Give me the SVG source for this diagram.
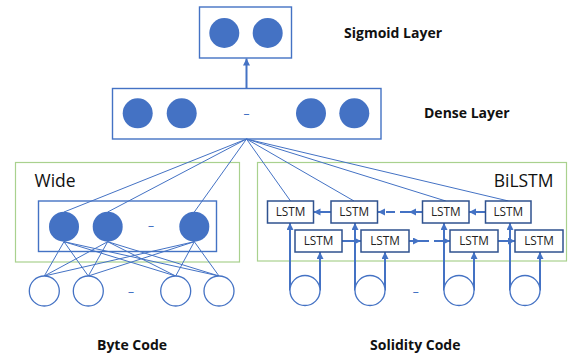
<svg xmlns="http://www.w3.org/2000/svg" width="568" height="357" viewBox="0 0 568 357">
  <defs>
    <marker id="head" markerUnits="userSpaceOnUse" markerWidth="8" markerHeight="8" refX="7" refY="3.5" orient="auto">
      <path d="M0,0 L7,3.5 L0,7 z" fill="#4472C4"/>
    </marker>
    <style>
      .cont{fill:none;stroke:#4472C4;stroke-width:1.4}
      .grp{fill:none;stroke:#A9D18E;stroke-width:1.2}
      .unit{fill:#4472C4}
      .inp{fill:#fff;stroke:#4472C4;stroke-width:1.3}
      .lstm rect{fill:#fff;stroke:#2F528F;stroke-width:1.5}
      .lstm text{font-family:"Open Sans","Noto Sans",sans-serif;font-size:11.8px;fill:#222;text-anchor:middle}
      .wire{stroke:#4472C4;stroke-width:1;fill:none}
      .flow{stroke:#4472C4;stroke-width:2;fill:none}
      .flow.arr{marker-end:url(#head)}
      .dashed{stroke-dasharray:9 5}
      .title{font-family:"Open Sans","Noto Sans",sans-serif;font-weight:bold;font-size:14px;fill:#111}
      .grplabel{font-family:"Open Sans","Noto Sans",sans-serif;font-size:17.5px;fill:#111}
      .ell{font-family:"Noto Sans",sans-serif;font-size:12px;fill:#4472C4;text-anchor:middle}
    </style>
  </defs>

  <!-- group frames -->
  <g id="wide-frame">
    <rect class="grp" x="15.5" y="162.5" width="224" height="99.5"/>
    <text class="grplabel" x="34.5" y="186.5">Wide</text>
  </g>
  <g id="bilstm-frame">
    <rect class="grp" x="257.5" y="162.5" width="309" height="98.5"/>
    <text class="grplabel" x="553.5" y="186.5" text-anchor="end">BiLSTM</text>
  </g>

  <!-- connectors -->
  <g id="connectors">
    <!-- dense to sigmoid -->
    <line class="flow arr" x1="246.5" y1="88.5" x2="246.5" y2="58.5"/>
    <!-- dense fan-out -->
    <line class="wire" x1="246.5" y1="139" x2="64" y2="212"/>
    <line class="wire" x1="246.5" y1="139" x2="107.7" y2="212"/>
    <line class="wire" x1="246.5" y1="139" x2="194.3" y2="212"/>
    <line class="wire" x1="246.5" y1="139" x2="290.5" y2="201"/>
    <line class="wire" x1="246.5" y1="139" x2="354" y2="201"/>
    <line class="wire" x1="246.5" y1="139" x2="445.8" y2="201"/>
    <line class="wire" x1="246.5" y1="139" x2="508.5" y2="201"/>
    <!-- wide units to byte inputs -->
    <g class="wire">
      <line x1="64" y1="241.7" x2="44.3" y2="276"/>
      <line x1="64" y1="241.7" x2="88.3" y2="276"/>
      <line x1="64" y1="241.7" x2="175.7" y2="276"/>
      <line x1="64" y1="241.7" x2="219" y2="276"/>
      <line x1="107.7" y1="241.7" x2="44.3" y2="276"/>
      <line x1="107.7" y1="241.7" x2="88.3" y2="276"/>
      <line x1="107.7" y1="241.7" x2="175.7" y2="276"/>
      <line x1="107.7" y1="241.7" x2="219" y2="276"/>
      <line x1="194.3" y1="241.7" x2="44.3" y2="276"/>
      <line x1="194.3" y1="241.7" x2="88.3" y2="276"/>
      <line x1="194.3" y1="241.7" x2="175.7" y2="276"/>
      <line x1="194.3" y1="241.7" x2="219" y2="276"/>
    </g>
    <!-- backward LSTM chain -->
    <line class="flow arr" x1="331" y1="212" x2="313.5" y2="212"/>
    <line class="flow arr" x1="422.5" y1="212" x2="409" y2="212"/>
    <line class="flow arr dashed" x1="409" y1="212" x2="378" y2="212"/>
    <line class="flow arr" x1="485.5" y1="212" x2="469" y2="212"/>
    <!-- forward LSTM chain -->
    <line class="flow arr" x1="342" y1="241" x2="361" y2="241"/>
    <line class="flow arr" x1="409" y1="241" x2="420" y2="241"/>
    <line class="flow arr dashed" x1="420" y1="241" x2="450" y2="241"/>
    <line class="flow arr" x1="498" y1="241" x2="515" y2="241"/>
    <!-- solidity inputs into both directions -->
    <line class="flow arr" x1="290" y1="290.5" x2="290" y2="223"/>
    <line class="flow arr" x1="320" y1="290.5" x2="320" y2="252"/>
    <line class="flow arr" x1="355" y1="290.5" x2="355" y2="223"/>
    <line class="flow arr" x1="385" y1="290.5" x2="385" y2="252"/>
    <line class="flow arr" x1="444" y1="290.5" x2="444" y2="223"/>
    <line class="flow arr" x1="474" y1="290.5" x2="474" y2="252"/>
    <line class="flow arr" x1="510" y1="290.5" x2="510" y2="223"/>
    <line class="flow arr" x1="540" y1="290.5" x2="540" y2="252"/>
  </g>

  <!-- output layer -->
  <g id="sigmoid-layer">
    <rect class="cont" x="199.5" y="7" width="92" height="51"/>
    <circle class="unit" cx="224.3" cy="33" r="15"/>
    <circle class="unit" cx="267.7" cy="33" r="15"/>
    <text class="title" x="344" y="37.5">Sigmoid Layer</text>
  </g>

  <g id="dense-layer">
    <rect class="cont" x="112.5" y="88.5" width="268.5" height="50.5"/>
    <circle class="unit" cx="137.7" cy="113.3" r="15"/>
    <circle class="unit" cx="181.7" cy="113.3" r="15"/>
    <circle class="unit" cx="311" cy="113.3" r="15"/>
    <circle class="unit" cx="354.3" cy="113.3" r="15"/>
    <text class="ell" x="246.5" y="117.5">–</text>
    <text class="title" x="424" y="118">Dense Layer</text>
  </g>

  <g id="wide-layer">
    <rect class="cont" x="38.5" y="201" width="178" height="50.5"/>
    <circle class="unit" cx="64" cy="226.7" r="15"/>
    <circle class="unit" cx="107.7" cy="226.7" r="15"/>
    <circle class="unit" cx="194.3" cy="226.7" r="15"/>
    <text class="ell" x="151" y="229.5">–</text>
  </g>

  <g id="byte-code">
    <circle class="inp" cx="44.3" cy="291" r="15"/>
    <circle class="inp" cx="88.3" cy="291" r="15"/>
    <circle class="inp" cx="175.7" cy="291" r="15"/>
    <circle class="inp" cx="219" cy="291" r="15"/>
    <text class="ell" x="131" y="296">–</text>
    <text class="title" x="97" y="350">Byte Code</text>
  </g>

  <g id="solidity-code">
    <circle class="inp" cx="305" cy="290.5" r="15"/>
    <circle class="inp" cx="370" cy="290.5" r="15"/>
    <circle class="inp" cx="459" cy="290.5" r="15"/>
    <circle class="inp" cx="525" cy="290.5" r="15"/>
    <text class="ell" x="415.7" y="296">–</text>
    <text class="title" x="370" y="350">Solidity Code</text>
  </g>

  <!-- backward LSTM cells -->
  <g id="lstm-b1" class="lstm"><rect x="267.5" y="201" width="46" height="22"/><text x="290.5" y="216">LSTM</text></g>
  <g id="lstm-b2" class="lstm"><rect x="331" y="201" width="46.5" height="22"/><text x="354.2" y="216">LSTM</text></g>
  <g id="lstm-b3" class="lstm"><rect x="422.5" y="201" width="46.5" height="22"/><text x="445.8" y="216">LSTM</text></g>
  <g id="lstm-b4" class="lstm"><rect x="485.5" y="201" width="45.5" height="22"/><text x="508.3" y="216">LSTM</text></g>
  <!-- forward LSTM cells -->
  <g id="lstm-f1" class="lstm"><rect x="295" y="230" width="47" height="22"/><text x="318.5" y="245">LSTM</text></g>
  <g id="lstm-f2" class="lstm"><rect x="361" y="230" width="48" height="22"/><text x="385" y="245">LSTM</text></g>
  <g id="lstm-f3" class="lstm"><rect x="450" y="230" width="48" height="22"/><text x="474" y="245">LSTM</text></g>
  <g id="lstm-f4" class="lstm"><rect x="515" y="230" width="48" height="22"/><text x="539" y="245">LSTM</text></g>
</svg>
